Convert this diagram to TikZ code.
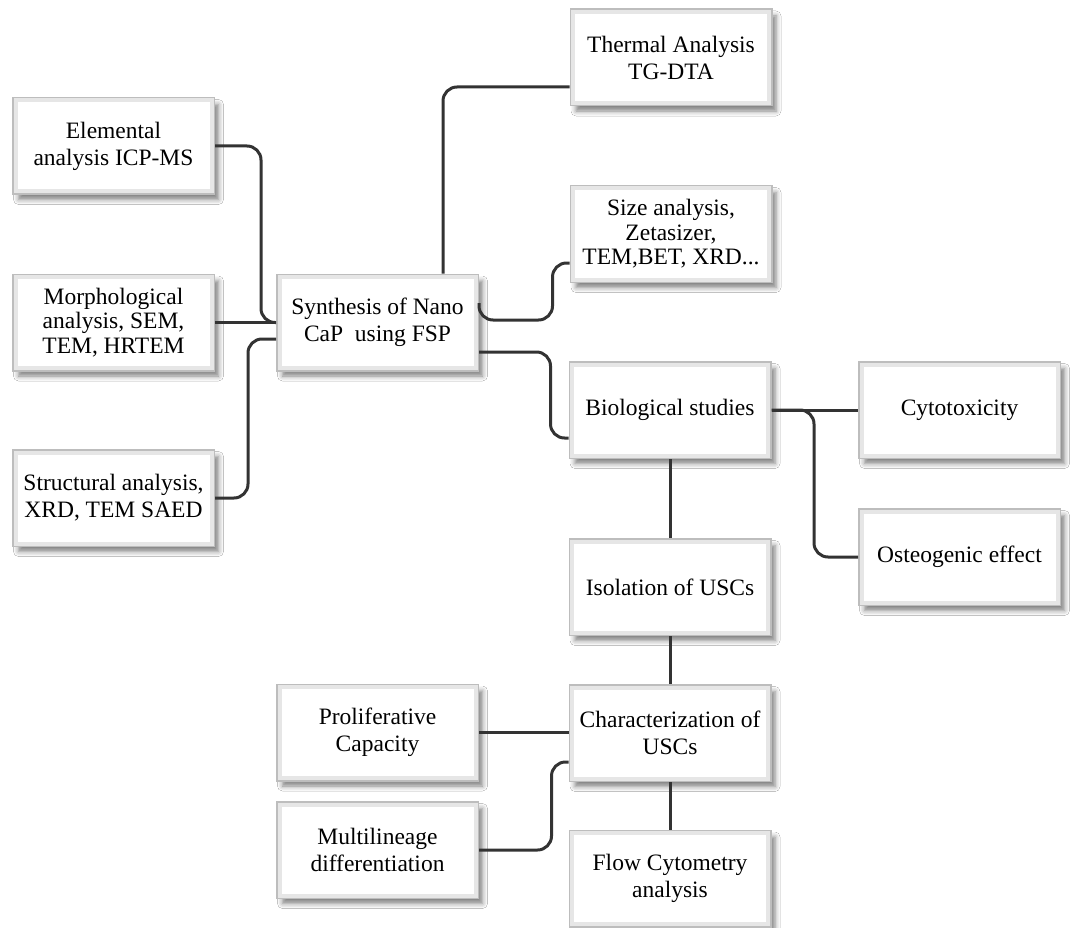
\documentclass[tikz,border=0pt]{standalone}
\usepackage{fontspec}
\setmainfont{Liberation Serif}
\usetikzlibrary{shadows.blur,calc}
\definecolor{frameout}{HTML}{BDBDBD}
\definecolor{framein}{HTML}{E6E6E6}
\definecolor{linkc}{HTML}{333333}
\tikzset{
  box/.style={draw=frameout, line width=3pt, fill=white,
    minimum width=200pt, minimum height=95pt, inner sep=0pt, align=center,
    font=\fontsize{23.5}{27}\selectfont,
    blur shadow={shadow xshift=5pt, shadow yshift=-6pt, shadow blur radius=5pt, shadow opacity=50}},
  tight/.style={font=\fontsize{23.5}{24.5}\selectfont},
  innerframe/.style={draw=framein, line width=4pt},
  link/.style={draw=linkc, line width=3pt, rounded corners=14pt}
}
\begin{document}
\begin{tikzpicture}[x=1pt,y=-1pt]
\useasboundingbox[fill=white] (0,0) rectangle (1070,928);

\node[box] (thermal) at (671,57.5) {Thermal Analysis\\TG-DTA};
\node[box] (elem) at (113.5,146) {Elemental\\analysis ICP-MS};
\node[box,tight] (size) at (671,234) {Size analysis,\\Zetasizer,\\TEM,BET, XRD...};
\node[box,tight] (morph) at (113.5,322.5) {Morphological\\analysis, SEM,\\TEM, HRTEM};
\node[box] (synth) at (377.5,322.5) {Synthesis of Nano\\CaP~ using FSP};
\node[box] (bio) at (670,410) {Biological studies};
\node[box] (cyto) at (959.5,410) {Cytotoxicity};
\node[box] (struct) at (113.5,498) {Structural analysis,\\XRD, TEM SAED};
\node[box] (osteo) at (959.5,557) {Osteogenic effect};
\node[box] (iso) at (670,587) {Isolation of USCs};
\node[box] (prolif) at (377.5,732.5) {Proliferative\\Capacity};
\node[box] (char) at (670,733) {Characterization of\\USCs};
\node[box] (multi) at (377.5,850) {Multilineage\\differentiation};
\node[box] (flow) at (670,878.5) {Flow Cytometry\\analysis};

\foreach \n in {thermal,elem,size,morph,synth,bio,cyto,struct,osteo,iso,prolif,char,multi,flow}
  \draw[innerframe] ([shift={(3.5pt,-3.5pt)}]\n.north west) rectangle ([shift={(-3.5pt,3.5pt)}]\n.south east);

% connectors
\draw[link] ([xshift=65.5pt]synth.north) |- ([yshift=-29.5pt]thermal.west);
\draw[link] (elem.east) -| ([xshift=-15pt]synth.west) -- (synth.west);
\draw[link] (morph.east) -- (synth.west);
\draw[link] (struct.east) -| ([xshift=-28pt,yshift=-16.5pt]synth.west) -- ([yshift=-16.5pt]synth.west);
\draw[link] ([yshift=19.5pt]synth.east) -- ([yshift=2.5pt]synth.east) -| ([xshift=-17pt,yshift=-29pt]size.west) -- ([yshift=-29pt]size.west);
\draw[link] ([yshift=-29.5pt]synth.east) -| ([xshift=-18pt,yshift=-28pt]bio.west) -- ([yshift=-28pt]bio.west);
\draw[link] (bio.east) -- (cyto.west);
\draw[link] (bio.east) -| ([xshift=-44pt]osteo.west) -- (osteo.west);
\draw[link] (bio.south) -- (iso.north);
\draw[link] (iso.south) -- (char.north);
\draw[link] (prolif.east) -- (prolif.east -| char.west);
\draw[link] (multi.east) -| ([xshift=-17pt,yshift=-29pt]char.west) -- ([yshift=-29pt]char.west);
\draw[link] (char.south) -- (flow.north);
\end{tikzpicture}
\end{document}
